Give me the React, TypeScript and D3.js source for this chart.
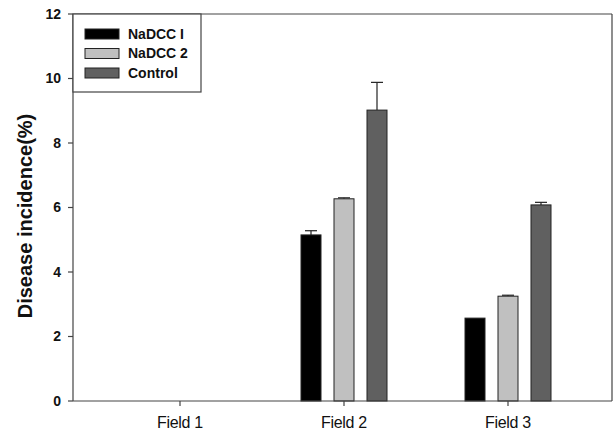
import React from "react";
import * as d3 from "d3";

const categories = ["Field 1", "Field 2", "Field 3"];
const seriesNames = ["NaDCC I", "NaDCC 2", "Control"];
const nadcc1 = [0, 5.15, 2.57];
const nadcc1Err = [0, 0.13, 0];
const nadcc2 = [0, 6.27, 3.25];
const nadcc2Err = [0, 0.03, 0.03];
const control = [0, 9.02, 6.08];
const controlErr = [0, 0.86, 0.08];
const yTicks = [0, 2, 4, 6, 8, 10, 12];
const colors = ["#000000", "#c0c0c0", "#606060"];

const values = [nadcc1, nadcc2, control];
const errs = [nadcc1Err, nadcc2Err, controlErr];

export default function App() {
  const W = 615, H = 433;
  const left = 73, right = 612, top = 14, bottom = 401;
  const y = d3.scaleLinear().domain([0, 12]).range([bottom, top]);
  const x = d3.scaleLinear().domain([0, 2]).range([180, 508]);
  const offset = d3.scaleLinear().domain([0, 2]).range([-33, 33]);
  const bw = 20;
  const font = "Arial, 'Liberation Sans', sans-serif";
  return (
    <svg width={W} height={H} style={{ position: "absolute", left: 0, top: 0 }} fontFamily={font}>
      <rect x={0} y={0} width={W} height={H} fill="#fff" />
      {/* bars */}
      {values.map((vals, s) =>
        vals.map((v, i) => {
          if (v <= 0) return null;
          const cx = x(i) + offset(s);
          const e = errs[s][i];
          return (
            <g key={`${s}-${i}`}>
              {e > 0 && (
                <g stroke="#222" strokeWidth={1.2}>
                  <line x1={cx} x2={cx} y1={y(v)} y2={y(v + e)} />
                  <line x1={cx - 6} x2={cx + 6} y1={y(v + e)} y2={y(v + e)} />
                </g>
              )}
              <rect x={cx - bw / 2} y={y(v)} width={bw} height={y(0) - y(v)} fill={colors[s]} stroke="#222" strokeWidth={1} />
            </g>
          );
        })
      )}
      {/* frame */}
      <g stroke="#444" strokeWidth={1.2} fill="none">
        <line x1={left} x2={right} y1={top} y2={top} />
        <line x1={right} x2={right} y1={top} y2={bottom} />
        <line x1={left} x2={right} y1={bottom} y2={bottom} />
        <line x1={left} x2={left} y1={top} y2={bottom} />
      </g>
      {/* y ticks */}
      {yTicks.map((t) => (
        <g key={t}>
          <line x1={left - 5} x2={left} y1={y(t)} y2={y(t)} stroke="#444" strokeWidth={1.2} />
          <text x={left - 12} y={y(t)} dy="0.35em" textAnchor="end" fontWeight="bold" fontSize={14} fill="#111">{t}</text>
        </g>
      ))}
      {/* x ticks */}
      {categories.map((c, i) => (
        <g key={c}>
          <line x1={x(i)} x2={x(i)} y1={bottom} y2={bottom + 5} stroke="#444" strokeWidth={1.2} />
          <text x={x(i)} y={bottom + 27} textAnchor="middle" fontSize={16} fill="#111" letterSpacing={-0.3}>{c}</text>
        </g>
      ))}
      <text transform={`translate(32,216) rotate(-90)`} textAnchor="middle" fontWeight="bold" fontSize={20} fill="#111">Disease incidence(%)</text>
      {/* legend */}
      <rect x={left} y={top} width={128} height={78} fill="#fff" stroke="#444" strokeWidth={1.2} />
      {seriesNames.map((n, s) => (
        <g key={n}>
          <rect x={85} y={29 + s * 19.5} width={34} height={10} fill={colors[s]} stroke="#222" strokeWidth={1} />
          <text x={128} y={34 + s * 19.5} dy="0.35em" fontWeight="bold" fontSize={14} fill="#111">{n}</text>
        </g>
      ))}
    </svg>
  );
}
